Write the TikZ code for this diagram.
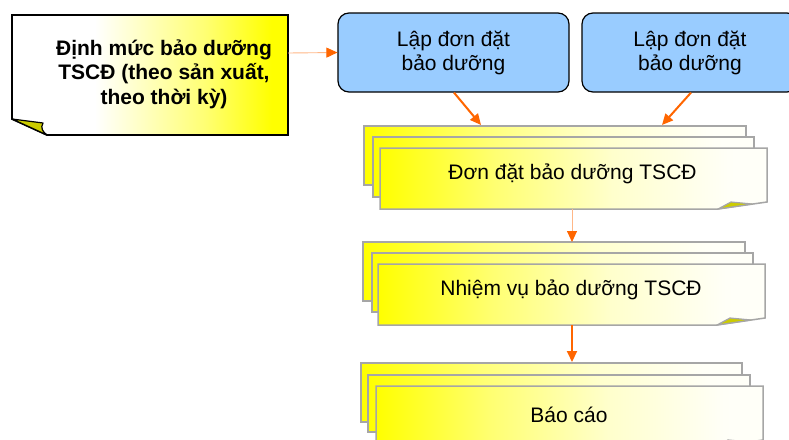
\documentclass[tikz,border=0pt]{standalone}
\usepackage{fontspec}
\setmainfont{Liberation Sans}
\usetikzlibrary{arrows.meta}

\definecolor{arrowor}{HTML}{FF6600}
\definecolor{paleor}{HTML}{FFB787}
\definecolor{boxblue}{HTML}{99CCFF}
\definecolor{sheetgrey}{HTML}{A6A6A6}
\definecolor{foldolive}{HTML}{CCCC00}

% white on the left fading to yellow on the right (the note)
\pgfdeclarehorizontalshading{notefade}{100bp}{%
  color(0bp)=(white); color(25bp)=(white); color(40bp)=(white);
  color(60bp)=(yellow!55!white); color(72bp)=(yellow); color(100bp)=(yellow)}
% yellow on the left fading to white on the right (the sheets)
\pgfdeclarehorizontalshading{sheetfade}{100bp}{%
  color(0bp)=(yellow); color(25bp)=(yellow); color(40bp)=(yellow!55!white);
  color(55bp)=(yellow!20!white); color(70bp)=(yellow!3!white); color(100bp)=(white)}

\tikzset{
  notebox/.style={shading=notefade, draw=black, line width=1.8pt, line join=miter},
  fold/.style={fill=foldolive, draw=black, line width=1.2pt, line join=round},
  sheetfold/.style={fill=foldolive, draw=sheetgrey, line width=1.2pt, line join=round},
  sheet/.style={shading=sheetfade, draw=sheetgrey, line width=1.5pt},
  bluebox/.style={draw=black, fill=boxblue, line width=1.2pt, rounded corners=11pt,
    align=center, font=\fontsize{21}{24}\selectfont, inner sep=0pt},
  sheettext/.style={font=\fontsize{21}{24}\selectfont, anchor=base, inner sep=0pt},
  boldtext/.style={font=\fontsize{21}{24.5}\selectfont\bfseries, align=center, inner sep=0pt},
  link/.style={draw=arrowor, line width=2pt, -{Triangle[length=11pt,width=10pt]}},
  thinlink/.style={draw=paleor, line width=0.9pt,
    -{Triangle[length=11pt,width=10pt,color=arrowor,fill=arrowor]}},
}

\begin{document}
\begin{tikzpicture}[x=1pt, y=-1pt]
\useasboundingbox (0,0) rectangle (789,439);
\clip (0,0) rectangle (789,439);
\fill[white] (0,0) rectangle (789,439);

% --- note with a curled lower-left corner
\shadedraw[notebox] (12,15) -- (288,15) -- (288,135) -- (47,135) -- (12,119) -- cycle;
\filldraw[fold] (12,119) -- (43,123) .. controls (40,128) and (43,132) .. (47,135) -- cycle;
\node[boldtext] (norm) at (164,74) {Định mức bảo dưỡng\\TSCĐ (theo sản xuất,\\theo thời kỳ)};
\coordinate (normout) at (288,53);

% --- the two order boxes
\node[bluebox, minimum width=231pt, minimum height=79pt] (lap1) at (453.5,52.5) {Lập đơn đặt\\bảo dưỡng};
\node[bluebox, minimum width=216pt, minimum height=79pt] (lap2) at (690,52.5) {Lập đơn đặt\\bảo dưỡng};

% --- stack 1: maintenance order
\shadedraw[sheet] (364,126) rectangle (746,185);
\shadedraw[sheet] (373,137) rectangle (754,197);
\shadedraw[sheet] (380,148) -- (767,148) -- (767,202) -- (718,209) -- (380,209) -- cycle;
\filldraw[sheetfold] (718,209) -- (731,202) -- (752,204) -- cycle;
\node[sheettext] (don) at (572.5,179) {Đơn đặt bảo dưỡng TSCĐ};
\coordinate (in1a) at (481,125);
\coordinate (in1b) at (662,125);
\coordinate (out1) at (572,209);

% --- stack 2: maintenance task
\shadedraw[sheet] (363,242) rectangle (745,301);
\shadedraw[sheet] (372,253) rectangle (753,312);
\shadedraw[sheet] (378,264) -- (765,264) -- (765,318) -- (717,325) -- (378,325) -- cycle;
\filldraw[sheetfold] (717,325) -- (730,318) -- (751,320) -- cycle;
\node[sheettext] (nv) at (571,295) {Nhiệm vụ bảo dưỡng TSCĐ};
\coordinate (in2) at (572,242);
\coordinate (out2) at (572,325);

% --- stack 3: report
\shadedraw[sheet] (361,363) rectangle (742,422);
\shadedraw[sheet] (368,375) rectangle (750,432);
\shadedraw[sheet] (376,386) -- (763,386) -- (763,440) -- (715,447) -- (376,447) -- cycle;
\filldraw[sheetfold] (715,447) -- (728,440) -- (749,442) -- cycle;
\node[sheettext] (bc) at (569,422) {Báo cáo};
\coordinate (in3) at (572,362);

% --- connectors
\draw[thinlink] (normout) -- (lap1.west);
\draw[link] (lap1.south -| 454,0) -- (in1a);
\draw[link] (lap2.south -| 691,0) -- (in1b);
\draw[thinlink] (out1) -- (in2);
\draw[link] (out2) -- (in3);
\end{tikzpicture}
\end{document}
